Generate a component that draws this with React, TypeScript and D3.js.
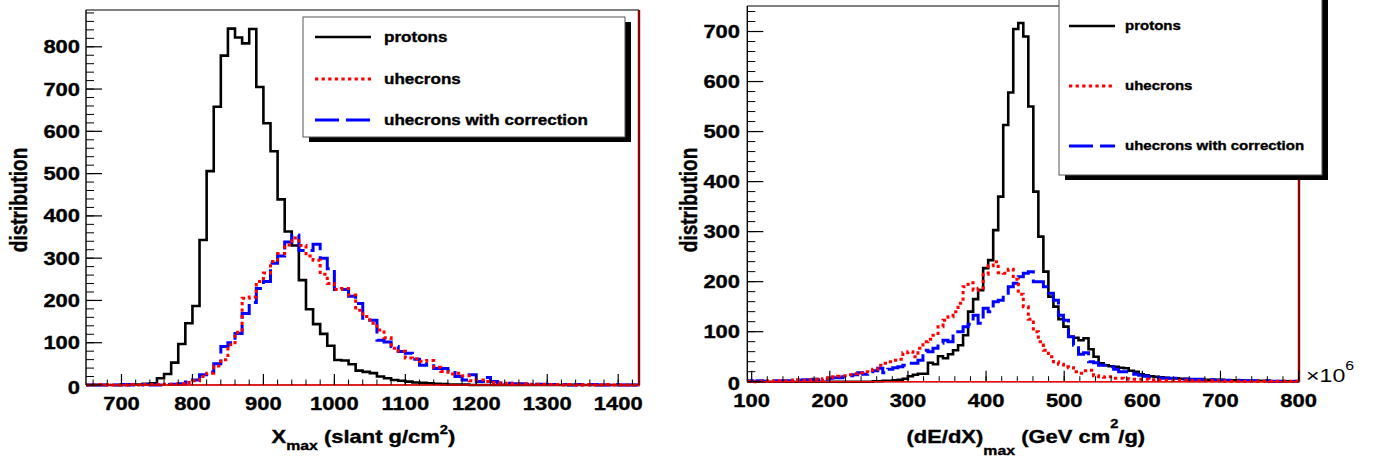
import React from 'react';
import * as d3 from 'd3';

// ---- data: left panel, Xmax histograms (10 g/cm2 bins starting at 650) ----
const xmaxBinStart = 650;
const xmaxBinWidth = 10;
const protonsXmax = [
  0, 0, 0, 0, 0, 0, 1, 1, 3, 4,
  16, 26, 53, 97, 146, 187, 343, 506, 658, 779,
  843, 822, 808, 842, 705, 619, 553, 439, 363, 330,
  248, 179, 144, 121, 93, 59, 58, 49, 34, 31,
  28, 20, 16, 12, 10, 8, 6, 5, 4, 3,
  2, 1, 1, 1, 0, 0, 0, 0, 0, 0,
  0, 0, 0, 0, 0, 0, 0, 0, 0, 0,
  0, 0, 0, 0, 0, 0, 0, 0,
];
const uhecronsXmax = [
  0, 0, 1, 0, 0, 0, 1, 0, 1, 1,
  1, 2, 2, 3, 6, 10, 20, 28, 45, 60,
  95, 125, 205, 208, 245, 265, 292, 311, 331, 348,
  330, 305, 295, 262, 240, 226, 228, 213, 177, 162,
  146, 130, 112, 87, 80, 64, 62, 56, 58, 42,
  32, 26, 28, 22, 10, 12, 8, 6, 5, 4,
  3, 3, 2, 2, 1, 1, 1, 0, 1, 0,
  1, 0, 0, 1, 0, 0, 0, 0,
];
const correctedXmax = [
  0, 0, 0, 0, 0, 1, 0, 0, 1, 0,
  0, 1, 2, 3, 7, 12, 24, 31, 50, 91,
  100, 122, 169, 195, 228, 245, 288, 305, 338, 355,
  318, 318, 333, 300, 275, 226, 226, 210, 193, 153,
  153, 106, 102, 91, 79, 75, 61, 47, 50, 39,
  39, 35, 20, 12, 24, 8, 18, 8, 5, 4,
  3, 3, 2, 2, 2, 1, 1, 1, 0, 1,
  0, 1, 0, 0, 1, 0, 0, 0,
];

// ---- data: right panel, (dE/dX)max histograms, 110 bins over [94.4, 800.9] ----
const dedxMin = 94.4;
const dedxMax = 800.9;
const protonsDedx = [
  0, 0, 0, 0, 0, 0, 0, 0, 0, 0,
  0, 0, 0, 0, 0, 0, 0, 0, 0, 0,
  0, 0, 0, 0, 0, 1, 1, 2, 2, 3,
  4, 6, 11, 14, 16, 16, 38, 35, 51, 47,
  55, 63, 73, 93, 140, 165, 183, 227, 243, 303,
  370, 513, 578, 705, 717, 690, 550, 380, 290, 220,
  170, 150, 125, 110, 90, 88, 83, 87, 65, 50,
  37, 33, 31, 30, 28, 27, 22, 20, 15, 13,
  11, 10, 9, 8, 7, 7, 6, 6, 5, 5,
  5, 4, 4, 4, 4, 3, 3, 3, 3, 2,
  2, 2, 2, 2, 1, 1, 1, 1, 1, 1,
];
const uhecronsDedx = [
  1, 0, 1, 1, 2, 1, 2, 2, 2, 3,
  4, 3, 4, 5, 4, 6, 8, 10, 11, 12,
  14, 16, 18, 20, 23, 25, 33, 37, 40, 43,
  45, 58, 60, 50, 67, 80, 85, 93, 110, 123,
  130, 140, 157, 190, 198, 183, 187, 215, 232, 240,
  218, 217, 225, 205, 175, 150, 125, 100, 80, 63,
  50, 40, 35, 30, 28, 20, 17, 22, 23, 12,
  10, 9, 10, 7, 7, 6, 5, 5, 5, 5,
  4, 4, 3, 3, 3, 3, 3, 3, 2, 2,
  2, 2, 2, 2, 2, 1, 1, 1, 1, 1,
  1, 1, 1, 1, 1, 1, 1, 1, 1, 1,
];
const correctedDedx = [
  2, 1, 2, 1, 2, 2, 1, 2, 2, 3,
  3, 4, 4, 5, 4, 5, 7, 8, 8, 10,
  12, 14, 18, 15, 20, 22, 27, 18, 25, 28,
  30, 33, 37, 37, 43, 63, 60, 67, 77, 83,
  80, 100, 100, 110, 115, 133, 117, 147, 140, 160,
  163, 173, 190, 197, 210, 217, 220, 200, 200, 190,
  177, 163, 133, 123, 90, 73, 55, 58, 40, 38,
  33, 33, 30, 25, 20, 20, 18, 15, 13, 11,
  9, 9, 7, 7, 7, 7, 5, 5, 5, 5,
  5, 4, 4, 3, 3, 3, 3, 3, 2, 2,
  2, 2, 2, 2, 1, 1, 1, 1, 1, 1,
];

const legendLabels = ['protons', 'uhecrons', 'uhecrons with correction'];
const xmaxTicks = [700, 800, 900, 1000, 1100, 1200, 1300, 1400];
const xmaxCountTicks = [0, 100, 200, 300, 400, 500, 600, 700, 800];
const dedxTicks = [100, 200, 300, 400, 500, 600, 700, 800];
const dedxCountTicks = [0, 100, 200, 300, 400, 500, 600, 700];

const FONT = '"Liberation Sans", Arial, Helvetica, sans-serif';
const SX = 1.22; // the original picture is stretched sideways

const styles = [
  { stroke: '#000', width: 2.6, dash: undefined },
  { stroke: '#ff0000', width: 3, dash: '3.3,3.3' },
  { stroke: '#0000ff', width: 3, dash: '22,6' },
];

const SText = ({ x, y, size, anchor = 'start', weight = 'bold', children }: any) => (
  <text
    transform={`translate(${x},${y}) scale(${SX},1)`}
    fontSize={size}
    fontWeight={weight}
    fontFamily={FONT}
    textAnchor={anchor}
    fill="#000"
    stroke={weight === 'bold' ? '#000' : 'none'}
    strokeWidth={0.35}
  >
    {children}
  </text>
);

const histPath = (values: number[], edges: number[], x: any, y: any) => {
  const pts: [number, number][] = values.map((v, i) => [x(edges[i]), y(v)]);
  pts.push([x(edges[values.length]), y(values[values.length - 1])]);
  return d3.line().curve(d3.curveStepAfter)(pts) || '';
};

const Panel = (props: any) => {
  const { x, y, series, edges, xTicks, yTicks, xMinor, yMinor, left, right, top, bottom, labelRight } = props;
  const order = [0, 2, 1];
  return (
    <g>
      {order.map((si) => (
        <path
          key={si}
          d={histPath(series[si], edges, x, y)}
          fill="none"
          stroke={styles[si].stroke}
          strokeWidth={styles[si].width}
          strokeDasharray={styles[si].dash}
          strokeLinejoin="miter"
        />
      ))}
      {/* frame */}
      <line x1={left} x2={right} y1={top} y2={top} stroke="#000" strokeWidth={1.2} />
      <line x1={left} x2={left} y1={top} y2={bottom} stroke="#000" strokeWidth={1.4} />
      <line x1={left} x2={right} y1={bottom} y2={bottom} stroke="#000" strokeWidth={1.2} />
      <line x1={left} x2={right} y1={bottom} y2={bottom} stroke="#ff0000" strokeWidth={1.4} />
      <line x1={right} x2={right} y1={top} y2={bottom} stroke="#8b0000" strokeWidth={2.4} />
      {/* y ticks */}
      {yMinor.map((t: number) => (
        <line key={'ym' + t} x1={left} x2={left + 8} y1={y(t)} y2={y(t)} stroke="#000" strokeWidth={1} />
      ))}
      {yTicks.map((t: number) => (
        <g key={'y' + t}>
          <line x1={left} x2={left + 16} y1={y(t)} y2={y(t)} stroke="#000" strokeWidth={1.2} />
          <SText x={labelRight} y={y(t) + (t === 0 ? 8.5 : 6.5)} size={18} anchor="end">{t}</SText>
        </g>
      ))}
      {/* x ticks */}
      {xMinor.map((t: number) => (
        <line key={'xm' + t} x1={x(t)} x2={x(t)} y1={bottom} y2={bottom - 5.5} stroke="#000" strokeWidth={1} />
      ))}
      {xTicks.map((t: number) => (
        <g key={'x' + t}>
          <line x1={x(t)} x2={x(t)} y1={bottom} y2={bottom - 11} stroke="#000" strokeWidth={1.2} />
          <SText x={x(t)} y={bottom + 25} size={18} anchor="middle">{t}</SText>
        </g>
      ))}
    </g>
  );
};

const Legend = ({ x0, y0, x1, y1, rows, lineX0, lineX1, textX, size }: any) => (
  <g>
    <rect x={x0 + 6} y={y0 + 5} width={x1 - x0} height={y1 - y0} fill="#000" />
    <rect x={x0} y={y0} width={x1 - x0} height={y1 - y0} fill="#fff" stroke="#555" strokeWidth={1} />
    {rows.map((ry: number, i: number) => (
      <g key={i}>
        <line
          x1={lineX0}
          x2={lineX1}
          y1={ry}
          y2={ry}
          stroke={styles[i].stroke}
          strokeWidth={styles[i].width}
          strokeDasharray={i === 2 ? '24,7' : styles[i].dash}
        />
        <SText x={textX} y={ry + size * 0.36} size={size}>{legendLabels[i]}</SText>
      </g>
    ))}
  </g>
);

export default function App() {
  // left panel
  const xL = d3.scaleLinear().domain([650, 1430]).range([86, 639.5]);
  const yL = d3.scaleLinear().domain([0, 887]).range([385, 10]);
  const edgesL = d3.range(protonsXmax.length + 1).map((i) => xmaxBinStart + i * xmaxBinWidth);

  // right panel
  const xR = d3.scaleLinear().domain([dedxMin, dedxMax]).range([747.3, 1299.3]);
  const yR = d3.scaleLinear().domain([0, 751]).range([381.7, 6]);
  const wR = (dedxMax - dedxMin) / protonsDedx.length;
  const edgesR = d3.range(protonsDedx.length + 1).map((i) => dedxMin + i * wR);

  return (
    <svg
      width={1373}
      height={460}
      style={{ position: 'absolute', left: 0, top: 0, background: '#fff' }}
    >
      <rect width={1373} height={460} fill="#fff" />
      <Panel
        x={xL}
        y={yL}
        series={[protonsXmax, uhecronsXmax, correctedXmax]}
        edges={edgesL}
        xTicks={xmaxTicks}
        yTicks={xmaxCountTicks}
        xMinor={d3.range(660, 1430, 20)}
        yMinor={d3.range(20, 887, 20)}
        left={86}
        right={639}
        top={10}
        bottom={385}
        labelRight={80}
      />
      <Panel
        x={xR}
        y={yR}
        series={[protonsDedx, uhecronsDedx, correctedDedx]}
        edges={edgesR}
        xTicks={dedxTicks}
        yTicks={dedxCountTicks}
        xMinor={d3.range(120, 800, 20)}
        yMinor={d3.range(20, 751, 20)}
        left={747.3}
        right={1299}
        top={6}
        bottom={381.7}
        labelRight={740}
      />

      {/* axis titles */}
      <text
        transform={`translate(26.5,200) scale(${SX},1) rotate(-90)`}
        fontSize={19}
        fontWeight="bold"
        fontFamily={FONT}
        textAnchor="middle"
        stroke="#000"
        strokeWidth={0.35}
      >
        distribution
      </text>
      <text
        transform={`translate(697,200) scale(${SX},1) rotate(-90)`}
        fontSize={19}
        fontWeight="bold"
        fontFamily={FONT}
        textAnchor="middle"
        stroke="#000"
        strokeWidth={0.35}
      >
        distribution
      </text>

      <SText x={271.5} y={443} size={18}>
        X<tspan fontSize={13} dy={7}>max</tspan>
        <tspan dy={-7}> (slant g/cm</tspan>
        <tspan fontSize={12} dy={-9}>2</tspan>
        <tspan dy={9}>)</tspan>
      </SText>
      <SText x={906.5} y={443} size={18}>
        (dE/dX)<tspan fontSize={13} dy={12}>max</tspan>
        <tspan dy={-12}> (GeV cm</tspan>
        <tspan fontSize={12} dy={-15}>2</tspan>
        <tspan dy={15}>/g)</tspan>
      </SText>

      <SText x={1306} y={381.7} size={19} weight="normal">
        ×10<tspan fontSize={13} dy={-11.5}>6</tspan>
      </SText>

      <Legend
        x0={303}
        y0={17}
        x1={625}
        y1={137}
        rows={[37, 79, 120]}
        lineX0={315}
        lineX1={371}
        textX={384}
        size={14}
      />
      <Legend
        x0={1059}
        y0={-5}
        x1={1322}
        y1={175}
        rows={[26, 86, 146]}
        lineX0={1069}
        lineX1={1115}
        textX={1125}
        size={12.3}
      />
    </svg>
  );
}
